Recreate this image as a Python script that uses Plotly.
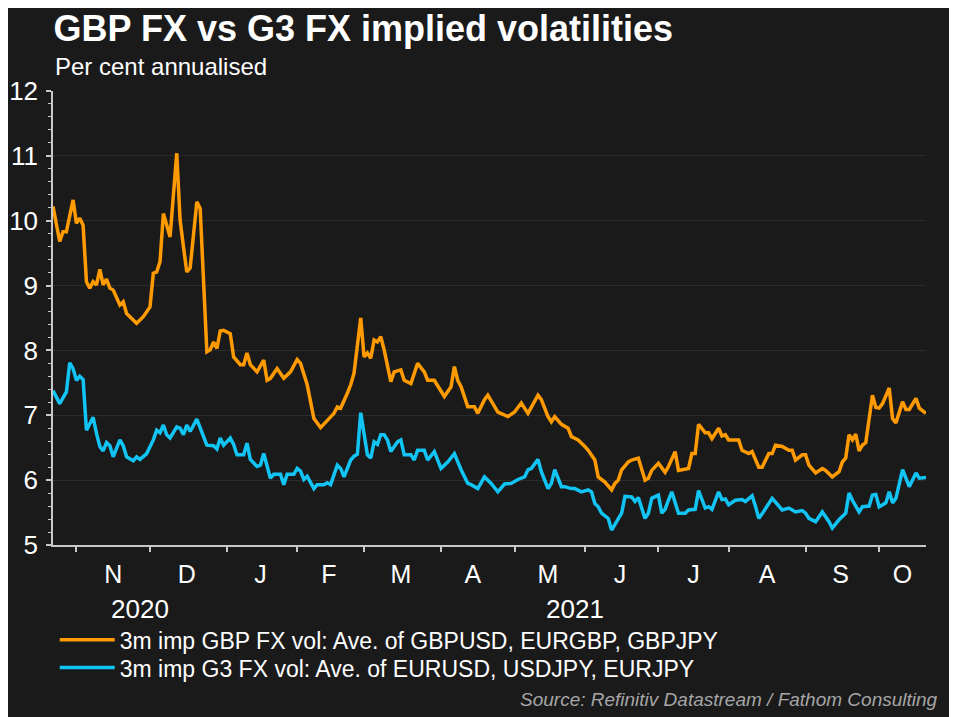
import plotly.graph_objects as go

# ---- data (business-day dates, per cent annualised) ----
gbp_dates = [
    "2020-10-21","2020-10-23","2020-10-26","2020-10-27","2020-10-29","2020-10-30",
    "2020-11-02","2020-11-03","2020-11-04","2020-11-05","2020-11-06","2020-11-09","2020-11-10",
    "2020-11-11","2020-11-12","2020-11-13","2020-11-16","2020-11-18","2020-11-19","2020-11-20",
    "2020-11-25","2020-11-27","2020-12-01","2020-12-02","2020-12-03","2020-12-04","2020-12-07",
    "2020-12-08","2020-12-09","2020-12-11","2020-12-14","2020-12-15","2020-12-16","2020-12-17",
    "2020-12-21","2020-12-22","2020-12-24","2020-12-25","2020-12-28","2020-12-29","2020-12-30",
    "2020-12-31","2021-01-04","2021-01-05","2021-01-07","2021-01-08","2021-01-11","2021-01-12",
    "2021-01-14","2021-01-18","2021-01-19","2021-01-20","2021-01-22","2021-01-26","2021-01-28",
    "2021-02-01","2021-02-02","2021-02-04","2021-02-08","2021-02-10","2021-02-12","2021-02-16",
    "2021-02-17","2021-02-18","2021-02-22","2021-02-23","2021-02-24","2021-02-26","2021-03-01",
    "2021-03-02","2021-03-03","2021-03-04","2021-03-05","2021-03-08","2021-03-09","2021-03-11",
    "2021-03-12","2021-03-16","2021-03-17","2021-03-19","2021-03-23","2021-03-25","2021-03-26",
    "2021-03-30","2021-04-02","2021-04-06","2021-04-07","2021-04-08","2021-04-09","2021-04-13",
    "2021-04-15","2021-04-16","2021-04-20","2021-04-21","2021-04-26","2021-04-29","2021-05-03",
    "2021-05-05","2021-05-07","2021-05-12","2021-05-13","2021-05-17","2021-05-18","2021-05-19",
    "2021-05-21","2021-05-25","2021-05-26","2021-05-28","2021-06-01","2021-06-02","2021-06-04",
    "2021-06-07","2021-06-09","2021-06-11","2021-06-14","2021-06-15","2021-06-16","2021-06-18",
    "2021-06-21","2021-06-23","2021-06-25","2021-06-28","2021-06-29","2021-07-01","2021-07-05",
    "2021-07-06","2021-07-08","2021-07-09","2021-07-14","2021-07-15","2021-07-16","2021-07-19",
    "2021-07-21","2021-07-22","2021-07-23","2021-07-27","2021-07-28","2021-07-29","2021-07-30",
    "2021-08-04","2021-08-05","2021-08-09","2021-08-10","2021-08-12","2021-08-13","2021-08-17",
    "2021-08-18","2021-08-19","2021-08-23","2021-08-25","2021-08-26","2021-08-27","2021-08-31",
    "2021-09-01","2021-09-02","2021-09-06","2021-09-08","2021-09-09","2021-09-13","2021-09-15",
    "2021-09-16","2021-09-17","2021-09-20","2021-09-21","2021-09-22","2021-09-23","2021-09-24",
    "2021-09-27","2021-09-29","2021-09-30","2021-10-01","2021-10-04","2021-10-06","2021-10-07",
    "2021-10-08","2021-10-12","2021-10-13","2021-10-14","2021-10-18","2021-10-19","2021-10-21",
]
gbp_vol = [
    10.22, 9.68, 9.83, 9.83, 10.32, 9.96,
    10.04, 9.93, 9.06, 8.96, 9.06, 9.01, 9.25,
    9.01, 9.10, 8.96, 8.93, 8.70, 8.75, 8.57,
    8.42, 8.52, 8.67, 9.19, 9.21, 9.37, 10.11,
    9.91, 9.75, 11.04, 10.01, 9.60, 9.21, 9.27,
    10.29, 10.19, 7.98, 8.01, 8.13, 8.03, 8.30,
    8.31, 8.26, 7.90, 7.78, 7.78, 7.96, 7.78,
    7.67, 7.85, 7.54, 7.57, 7.72, 7.57, 7.67,
    7.86, 7.80, 7.47, 6.95, 6.81, 6.93, 7.03,
    7.13, 7.11, 7.34, 7.47, 7.65, 8.50, 7.90,
    7.96, 7.88, 8.16, 8.13, 8.21, 8.01, 7.52,
    7.67, 7.70, 7.54, 7.49, 7.80, 7.67, 7.54,
    7.54, 7.29, 7.44, 7.75, 7.54, 7.44, 7.13,
    7.13, 7.03, 7.24, 7.31, 7.05, 6.98, 7.05,
    7.19, 7.03, 7.31, 7.24, 6.98, 6.90, 6.98,
    6.86, 6.80, 6.67, 6.62, 6.52, 6.46, 6.31,
    6.05, 5.97, 5.85, 5.95, 6.00, 6.16, 6.28,
    6.31, 6.34, 6.00, 6.03, 6.15, 6.26, 6.12,
    6.21, 6.44, 6.15, 6.18, 6.41, 6.41, 6.86,
    6.73, 6.73, 6.64, 6.80, 6.68, 6.70, 6.62,
    6.62, 6.46, 6.41, 6.44, 6.20, 6.20, 6.41,
    6.41, 6.54, 6.52, 6.46, 6.46, 6.31, 6.39,
    6.39, 6.23, 6.11, 6.18, 6.15, 6.05, 6.13,
    6.28, 6.34, 6.70, 6.62, 6.71, 6.45, 6.54,
    6.58, 7.31, 7.12, 7.11, 7.18, 7.42, 6.95,
    6.88, 7.21, 7.09, 7.09, 7.26, 7.11, 7.03,
]

g3_dates = [
    "2020-10-21","2020-10-23","2020-10-27","2020-10-28","2020-10-29","2020-10-30",
    "2020-11-02","2020-11-03","2020-11-04","2020-11-05","2020-11-06","2020-11-09","2020-11-10",
    "2020-11-11","2020-11-12","2020-11-13","2020-11-16","2020-11-18","2020-11-19","2020-11-20",
    "2020-11-24","2020-11-25","2020-11-26","2020-11-30","2020-12-02","2020-12-03","2020-12-04",
    "2020-12-07","2020-12-08","2020-12-09","2020-12-11","2020-12-14","2020-12-15","2020-12-16",
    "2020-12-17","2020-12-21","2020-12-22","2020-12-24","2020-12-28","2020-12-29","2020-12-30",
    "2020-12-31","2021-01-04","2021-01-05","2021-01-06","2021-01-08","2021-01-11","2021-01-12",
    "2021-01-14","2021-01-15","2021-01-18","2021-01-20","2021-01-21","2021-01-25","2021-01-26",
    "2021-01-27","2021-01-29","2021-02-01","2021-02-02","2021-02-03","2021-02-04","2021-02-08",
    "2021-02-09","2021-02-11","2021-02-12","2021-02-15","2021-02-17","2021-02-18","2021-02-19",
    "2021-02-23","2021-02-24","2021-02-25","2021-02-26","2021-03-01","2021-03-02","2021-03-03",
    "2021-03-04","2021-03-05","2021-03-08","2021-03-09","2021-03-10","2021-03-11","2021-03-15",
    "2021-03-16","2021-03-17","2021-03-19","2021-03-22","2021-03-23","2021-03-25","2021-03-26",
    "2021-03-30","2021-04-01","2021-04-05","2021-04-07","2021-04-09","2021-04-13","2021-04-14",
    "2021-04-16","2021-04-20","2021-04-22","2021-04-26","2021-04-28","2021-04-30","2021-05-04",
    "2021-05-06","2021-05-07","2021-05-10","2021-05-12","2021-05-13","2021-05-17","2021-05-18",
    "2021-05-19","2021-05-21","2021-05-24","2021-05-26","2021-05-27","2021-05-31","2021-06-02",
    "2021-06-03","2021-06-04","2021-06-07","2021-06-08","2021-06-10","2021-06-11","2021-06-15",
    "2021-06-16","2021-06-17","2021-06-21","2021-06-22","2021-06-23","2021-06-25","2021-06-28",
    "2021-06-29","2021-07-01","2021-07-02","2021-07-05","2021-07-06","2021-07-07","2021-07-09",
    "2021-07-13","2021-07-14","2021-07-16","2021-07-19","2021-07-20","2021-07-21","2021-07-22",
    "2021-07-23","2021-07-27","2021-07-28","2021-07-29","2021-07-30","2021-08-03","2021-08-05",
    "2021-08-06","2021-08-10","2021-08-11","2021-08-12","2021-08-13","2021-08-17","2021-08-18",
    "2021-08-19","2021-08-23","2021-08-25","2021-08-27","2021-08-31","2021-09-01","2021-09-02",
    "2021-09-06","2021-09-08","2021-09-10","2021-09-13","2021-09-15","2021-09-17","2021-09-20",
    "2021-09-21","2021-09-23","2021-09-24","2021-09-28","2021-09-29","2021-09-30","2021-10-01",
    "2021-10-05","2021-10-06","2021-10-07","2021-10-08","2021-10-12","2021-10-14","2021-10-18",
    "2021-10-19","2021-10-21",
]
g3_vol = [
    7.38, 7.18, 7.36, 7.81, 7.72, 7.54,
    7.60, 7.55, 6.77, 6.88, 6.97, 6.72, 6.52,
    6.45, 6.58, 6.53, 6.36, 6.62, 6.53, 6.36,
    6.30, 6.36, 6.32, 6.41, 6.62, 6.77, 6.73,
    6.85, 6.70, 6.65, 6.82, 6.80, 6.70, 6.85,
    6.75, 6.94, 6.80, 6.54, 6.53, 6.48, 6.65,
    6.54, 6.65, 6.55, 6.39, 6.39, 6.57, 6.32,
    6.21, 6.23, 6.41, 6.03, 6.09, 6.09, 5.93,
    6.09, 6.09, 6.18, 6.14, 6.01, 6.06, 5.87,
    5.93, 5.93, 5.96, 5.93, 6.23, 6.18, 6.05,
    6.31, 6.37, 6.40, 7.04, 6.67, 6.39, 6.34,
    6.59, 6.55, 6.70, 6.70, 6.62, 6.44, 6.59,
    6.62, 6.39, 6.39, 6.31, 6.46, 6.46, 6.31,
    6.44, 6.18, 6.28, 6.41, 6.16, 5.95, 5.93,
    5.87, 6.05, 5.95, 5.82, 5.94, 5.95, 6.01,
    6.05, 6.16, 6.18, 6.32, 6.13, 5.87, 5.95,
    6.16, 5.90, 5.90, 5.87, 5.87, 5.82, 5.85,
    5.82, 5.64, 5.59, 5.49, 5.41, 5.23, 5.39,
    5.49, 5.75, 5.74, 5.67, 5.73, 5.41, 5.49,
    5.72, 5.77, 5.49, 5.55, 5.69, 5.82, 5.49,
    5.49, 5.54, 5.55, 5.84, 5.69, 5.57, 5.59,
    5.55, 5.82, 5.70, 5.71, 5.62, 5.69, 5.70,
    5.67, 5.76, 5.60, 5.41, 5.48, 5.65, 5.72,
    5.66, 5.54, 5.57, 5.51, 5.53, 5.49, 5.41,
    5.36, 5.51, 5.36, 5.26, 5.39, 5.49, 5.80,
    5.69, 5.51, 5.59, 5.60, 5.77, 5.78, 5.59,
    5.65, 5.82, 5.65, 5.72, 6.16, 5.90, 6.11,
    6.03, 6.04,
]

month_label_dates = ["2020-11-16","2020-12-16","2021-01-15","2021-02-12 12:00","2021-03-16",
                     "2021-04-14 12:00","2021-05-17","2021-06-15 12:00","2021-07-15 12:00",
                     "2021-08-16 12:00","2021-09-15 12:00","2021-10-12"]
month_labels = ["N","D","J","F","M","A","M","J","J","A","S","O"]
year_label_dates = ["2020-11-26","2021-05-27"]
year_labels = ["2020","2021"]

series_names = ["3m imp GBP FX vol: Ave. of GBPUSD, EURGBP, GBPJPY",
                "3m imp G3 FX vol: Ave. of EURUSD, USDJPY, EURJPY"]

BG = "#1a1a1a"
ORANGE = "#FF9A00"
CYAN = "#12C4F4"
FONT = "Liberation Sans, Arial, sans-serif"

fig = go.Figure()
fig.add_trace(go.Scatter(x=gbp_dates, y=gbp_vol, mode="lines", name=series_names[0],
                         line=dict(color=ORANGE, width=3.5), legend="legend"))
fig.add_trace(go.Scatter(x=g3_dates, y=g3_vol, mode="lines", name=series_names[1],
                         line=dict(color=CYAN, width=3.5), legend="legend2"))

legend_common = dict(xanchor="left", yanchor="middle",
                     font=dict(size=23, color="#ffffff", family=FONT),
                     bgcolor="rgba(0,0,0,0)", itemwidth=55)

fig.update_layout(
    width=949, height=709,
    paper_bgcolor=BG, plot_bgcolor=BG,
    margin=dict(l=45, r=31, t=83, b=172),
    font=dict(family=FONT, color="#ffffff"),
    title=dict(text="<b>GBP FX vs G3 FX implied volatilities</b>",
               font=dict(size=36, color="#ffffff", family=FONT),
               x=0.048, xanchor="left", xref="container",
               y=0.9887, yanchor="top", yref="container", pad=dict(t=0, b=0)),
    showlegend=True,
    legend=dict(x=0.002, y=-0.209, **legend_common),
    legend2=dict(x=0.002, y=-0.270, **legend_common),
)

fig.update_xaxes(
    type="date",
    range=["2020-10-21", "2021-10-21"],
    rangebreaks=[dict(bounds=["sat", "mon"])],
    tickmode="array", tickvals=month_label_dates, ticktext=month_labels,
    ticks="", ticklabelstandoff=6, tickfont=dict(size=25, color="#ffffff"),
    showgrid=False, zeroline=False, automargin=False,
    showline=True, linecolor="#c8c8c8", linewidth=1.5,
    minor=dict(dtick="M1", tick0="2020-11-01", ticks="outside", ticklen=5,
               tickcolor="#c8c8c8", tickwidth=1.5, showgrid=False),
)
fig.update_yaxes(
    range=[5, 12], tickmode="linear", tick0=5, dtick=1,
    ticks="outside", ticklen=5, tickcolor="#c8c8c8", tickwidth=1.5,
    ticklabelstandoff=3, automargin=False,
    tickfont=dict(size=26, color="#ffffff"),
    showgrid=True, gridcolor="#2b2b2b", gridwidth=1,
    zeroline=False, showline=True, linecolor="#c8c8c8", linewidth=1.5,
    minor=dict(dtick=0.2, ticks="outside", ticklen=3, tickcolor="#c8c8c8",
               tickwidth=1, showgrid=False),
)

fig.add_annotation(text="Per cent annualised", xref="paper", yref="paper",
                   x=0.0, y=1.053, xanchor="left", yanchor="middle", showarrow=False,
                   font=dict(size=24, color="#ffffff", family=FONT))
for d, t in zip(year_label_dates, year_labels):
    fig.add_annotation(text=t, x=d, xref="x", yref="paper", y=-0.142,
                       xanchor="center", yanchor="middle", showarrow=False,
                       font=dict(size=26, color="#ffffff", family=FONT))
fig.add_annotation(text="<i>Source: Refinitiv Datastream / Fathom Consulting</i>",
                   xref="paper", yref="paper", x=1.016, y=-0.341,
                   xanchor="right", yanchor="middle", showarrow=False,
                   font=dict(size=19, color="#a6a6a6", family=FONT))

fig.write_html("out.html")
